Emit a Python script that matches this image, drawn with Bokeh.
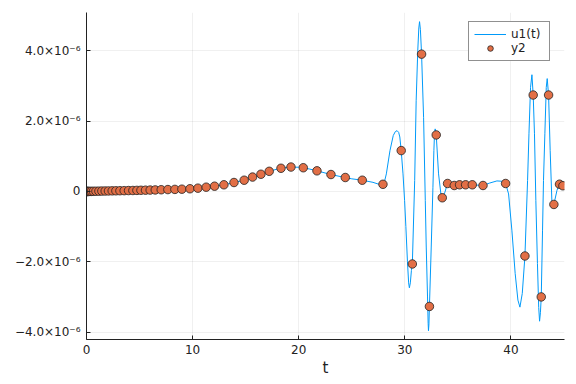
from bokeh.plotting import figure
from bokeh.models import Legend, LegendItem, Range1d, FixedTicker
from bokeh.embed import file_html
from bokeh.resources import INLINE

# ---- data (values in units of 1e-6) ----
pts_t = [0, 0.02, 0.06, 0.12, 0.2, 0.32, 0.47, 0.65, 0.89, 1.17, 1.45, 1.76, 2.07, 2.42,
         2.77, 3.15, 3.55, 3.96, 4.37, 4.75, 5.13, 5.56, 6.0, 6.48, 7.04, 7.67, 8.33, 8.99,
         9.75, 10.5, 11.28, 12.07, 12.95, 13.9, 14.86, 15.65, 16.44, 17.22, 18.33, 19.27,
         20.43, 21.72, 23.04, 24.39, 25.99, 27.94, 29.66, 30.71, 31.58, 32.32, 32.96, 33.53,
         34.03, 34.66, 35.16, 35.73, 36.36, 37.37, 39.5, 41.32, 42.1, 42.86, 43.55, 44.05,
         44.58, 44.9]
pts_y = [0.0, 0.0, 0.0, 0.0, 0.001, 0.002, 0.003, 0.005, 0.007, 0.009, 0.011, 0.013, 0.015,
         0.017, 0.019, 0.021, 0.023, 0.026, 0.028, 0.031, 0.034, 0.037, 0.04, 0.044, 0.049,
         0.054, 0.059, 0.065, 0.077, 0.094, 0.122, 0.15, 0.19, 0.255, 0.32, 0.41, 0.49, 0.573,
         0.66, 0.695, 0.675, 0.587, 0.482, 0.397, 0.32, 0.204, 1.163, -2.062, 3.906, -3.27,
         1.608, -0.179, 0.227, 0.17, 0.19, 0.19, 0.19, 0.17, 0.227, -1.835, 2.743, -2.999,
         2.743, -0.369, 0.207, 0.162]

line_t = [0, 1, 2, 3, 4, 5, 6, 7, 8, 9, 10, 11, 12, 13, 14, 15, 16, 17, 18, 19, 20, 21, 22,
          23, 24, 25, 26, 27, 27.5, 27.94, 28.1, 28.26, 28.6, 28.91, 29.1, 29.27, 29.42, 29.53,
          29.66, 29.83, 29.98, 30.1, 30.25, 30.36, 30.43, 30.52, 30.62, 30.71, 30.93, 31.07,
          31.22, 31.32, 31.39, 31.47, 31.58, 31.77, 31.93, 32.02, 32.14, 32.2, 32.23, 32.27,
          32.32, 32.49, 32.65, 32.74, 32.8, 32.86, 32.92, 32.96, 33.18, 33.4, 33.53, 33.78,
          34.03, 34.3, 34.66, 35.16, 35.73, 36.36, 37.37, 38.0, 38.68, 39.2, 39.5, 39.78,
          40.09, 40.4, 40.66, 40.85, 41.07, 41.32, 41.57, 41.7, 41.85, 41.98, 42.1, 42.22,
          42.35, 42.5, 42.62, 42.7, 42.78, 42.86, 42.98, 43.07, 43.2, 43.33, 43.42, 43.55,
          43.7, 43.86, 43.95, 44.05, 44.34, 44.58, 44.86, 45.0]
line_y = [0.0, 0.007, 0.015, 0.019, 0.026, 0.032, 0.04, 0.049, 0.056, 0.065, 0.083, 0.11,
          0.147, 0.192, 0.258, 0.335, 0.44, 0.55, 0.64, 0.69, 0.69, 0.64, 0.565, 0.485, 0.42,
          0.36, 0.32, 0.26, 0.21, 0.204, 0.3, 0.5, 1.16, 1.59, 1.70, 1.73, 1.68, 1.55, 1.16,
          0.5, -0.26, -1.0, -2.0, -2.6, -2.74, -2.6, -2.25, -2.06, 0.31, 2.58, 4.0, 4.65, 4.83,
          4.6, 3.91, 2.11, -0.26, -1.58, -3.0, -3.75, -3.96, -3.8, -3.27, -1.58, 0.12, 1.16,
          1.65, 1.78, 1.72, 1.61, 0.5, -0.07, -0.18, -0.02, 0.23, 0.2, 0.17, 0.19, 0.19, 0.19,
          0.17, 0.24, 0.30, 0.29, 0.227, -0.07, -1.1, -2.33, -3.09, -3.29, -2.9, -1.84, 0.31,
          1.64, 2.96, 3.32, 2.74, 1.64, -0.26, -2.05, -3.3, -3.69, -3.45, -3.0, -1.1, 0.31,
          1.64, 2.96, 3.21, 2.74, 1.16, -0.26, -0.4, -0.37, 0.03, 0.23, 0.16, 0.15]

x_ticks = [0, 10, 20, 30, 40]
y_ticks = [-4, -2, 0, 2, 4]
y_tick_labels = ["\u22124.0\u00d710\u207b\u2076", "\u22122.0\u00d710\u207b\u2076", "0",
                 "2.0\u00d710\u207b\u2076", "4.0\u00d710\u207b\u2076"]
series_names = ["u1(t)", "y2"]

FONT = "DejaVu Sans"

p = figure(width=576, height=384, output_backend="svg", toolbar_location=None,
           x_range=Range1d(0, 45.05), y_range=Range1d(-4.21, 5.09),
           min_border_left=86, min_border_right=12, min_border_top=12, min_border_bottom=45)
p.outline_line_color = None
p.background_fill_color = "white"

r_line = p.line(line_t, line_y, line_color="#009af9", line_width=1)
r_pts = p.scatter(pts_t, pts_y, size=8.5, fill_color="#e26f46", line_color="#222222",
                  line_width=0.8)

for ax in (p.xaxis, p.yaxis):
    ax.axis_line_color = "#222222"
    ax.axis_line_width = 1
    ax.major_tick_in = 4
    ax.major_tick_out = 0
    ax.minor_tick_line_color = None
    ax.major_tick_line_color = "#222222"
    ax.major_label_text_font = FONT
    ax.major_label_text_font_size = "12px"
    ax.major_label_text_color = "#222222"

p.xaxis.ticker = FixedTicker(ticks=x_ticks)
p.yaxis.ticker = FixedTicker(ticks=y_ticks)
p.yaxis.major_label_overrides = {t: l for t, l in zip(y_ticks, y_tick_labels)}
p.yaxis.major_label_standoff = 6
p.xaxis.major_label_standoff = 5
p.xaxis.axis_label = "t"
p.xaxis.axis_label_text_font = FONT
p.xaxis.axis_label_text_font_size = "15px"
p.xaxis.axis_label_text_font_style = "normal"
p.xaxis.axis_label_standoff = 2
p.xaxis.axis_label_text_color = "#222222"

for g in (p.xgrid, p.ygrid):
    g.grid_line_color = "black"
    g.grid_line_alpha = 0.1
    g.grid_line_width = 0.6
p.xgrid.ticker = FixedTicker(ticks=x_ticks)
p.ygrid.ticker = FixedTicker(ticks=y_ticks)

legend = Legend(items=[LegendItem(label=series_names[0], renderers=[r_line]),
                       LegendItem(label=series_names[1], renderers=[r_pts])],
                location=(382, 278))
legend.label_text_font = FONT
legend.label_text_font_size = "12px"
legend.label_text_color = "#222222"
legend.border_line_color = "#222222"
legend.border_line_width = 1
legend.background_fill_color = "white"
legend.background_fill_alpha = 1
legend.glyph_width = 32
legend.glyph_height = 14
legend.label_height = 14
legend.label_width = 33
legend.label_standoff = 5
legend.padding = 5
legend.spacing = 0
legend.margin = 0
p.add_layout(legend)

open("out.html", "w").write(file_html(p, INLINE))
